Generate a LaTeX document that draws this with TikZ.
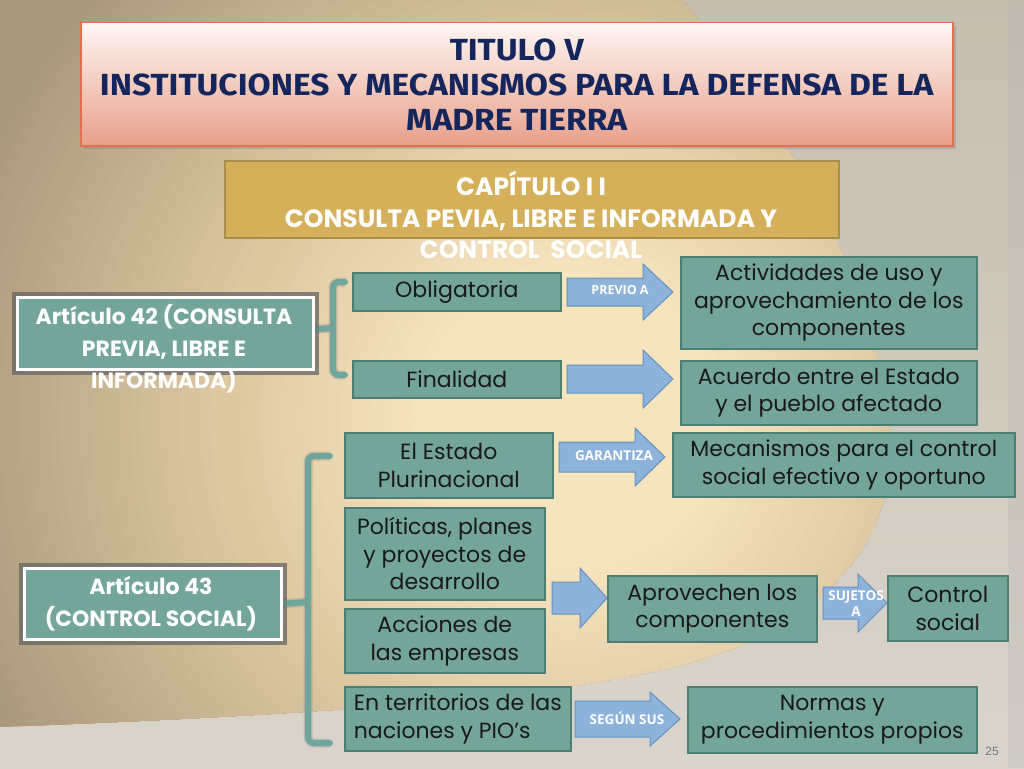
\documentclass[tikz,border=0pt]{standalone}
\usepackage{fontspec}
\setmainfont{Poppins}
\newfontfamily\titlefont{Fira Sans}[FakeStretch=1.1]
\newfontfamily\headfont{Poppins}
\newfontfamily\lblfont{Open Sans}
\newfontfamily\pgnfont{Liberation Sans}
\usetikzlibrary{shadows,calc}
\definecolor{teal1}{HTML}{73A59B}
\definecolor{tealb}{HTML}{4E7D72}
\definecolor{navy}{HTML}{15265C}
\definecolor{gold}{HTML}{D5B05B}
\definecolor{goldb}{HTML}{A88F49}
\definecolor{ablue}{HTML}{8DB3DA}
\definecolor{abord}{HTML}{6590C0}
\definecolor{brc}{HTML}{6FA69C}
\definecolor{bgt}{HTML}{C6BDAF}
\definecolor{bgb}{HTML}{DAD5CC}
\definecolor{cream}{HTML}{F6E4BE}
\definecolor{midtan}{HTML}{DDC8A2}
\definecolor{darktan}{HTML}{AA9A7C}
\definecolor{ttop}{HTML}{FEF6F4}
\definecolor{tbot}{HTML}{E8A08A}
\definecolor{tbord}{HTML}{E0704F}
\newcommand\barrow[6]{%
  \filldraw[arrsty] (#1,#4-#5) -- (#2,#4-#5) -- (#2,#4-#6) -- (#3,#4) -- (#2,#4+#6) -- (#2,#4+#5) -- (#1,#4+#5) -- cycle;}
\tikzset{
  tbox/.style={draw=tealb, line width=1.6pt, fill=teal1, inner sep=2pt, align=center,
    font=\fontsize{22}{27.5}\selectfont, text=black!90, anchor=north west},
  abox/.style={draw=white, line width=2.5pt, fill=teal1, anchor=north west,
    preaction={draw=black!60, line width=11pt, opacity=.5}},
  headtxt/.style={font=\headfont\bfseries\fontsize{22}{32}\selectfont, text=white, align=center},
  arrsty/.style={fill=ablue, draw=abord, line width=1pt, line join=miter},
  albl/.style={font=\lblfont\bfseries\fontsize{13.5}{16}\selectfont, text=white, align=center, inner sep=0pt},
  brace/.style={draw=brc, line width=6pt, line cap=round, rounded corners=6pt,
    preaction={draw=black!50, line width=9pt, opacity=.3}},
}
\begin{document}
\begin{tikzpicture}[x=1pt,y=-1pt]
\useasboundingbox (0,0) rectangle (1024,768);
% background
\shade[top color=bgt, bottom color=bgb] (0,0) rectangle (1024,768);
\fill[black!30, opacity=.25] (1008,0) rectangle (1024,768);
\begin{scope}
\clip (0,0) -- (683,0) .. controls (780,120) and (880,280) .. (890,440) .. controls (895,560) and (800,630) .. (700,660) .. controls (560,700) and (300,715) .. (0,727) -- cycle;
\fill[darktan] (0,0) rectangle (1024,768);
\foreach \r in {640,630,...,350} {\pgfmathtruncatemacro\p{(\r-350)/2.9}\fill[darktan!\p!midtan] (570,420) circle (\r);}
\foreach \r in {340,330,...,150} {\pgfmathtruncatemacro\p{(\r-150)/1.9}\fill[midtan!\p!cream] (570,420) circle (\r);}
\end{scope}
% title
\node[anchor=north west, minimum width=872pt, minimum height=123pt, top color=ttop, bottom color=tbot,
  draw=tbord, line width=1.5pt, drop shadow={shadow xshift=3pt, shadow yshift=-3pt, opacity=.35},
  align=center, text=navy, font=\titlefont\bfseries\fontsize{30.5}{35}\selectfont] (tit) at (80,22)
  {TITULO V\\INSTITUCIONES Y MECANISMOS PARA LA DEFENSA DE LA\\MADRE TIERRA};
% chapter
\node[anchor=north west, minimum width=614pt, minimum height=77pt, fill=gold, draw=goldb, line width=2pt] (cap) at (224,160) {};
\node[headtxt, font=\headfont\bfseries\fontsize{25}{31.5}\selectfont] (captxt) at (531,215) {CAPÍTULO I I\\CONSULTA PEVIA, LIBRE E INFORMADA Y\\CONTROL\ \ SOCIAL};
% braces
\draw[brace] (345,282) -- (333,282) -- (333,375) -- (345,375);
\draw[brace] (330,456) -- (308,456) -- (308,743) -- (330,743);
% article boxes
\node[abox, minimum width=296pt, minimum height=72pt] (a42) at (16,296) {};
\node[abox, minimum width=257pt, minimum height=71pt] (a43) at (23,567) {};
\draw[brace] (a42.east) ++(0,-4) -- (333,328);
\draw[brace] (a43.east) -- (308,602);
\node[abox, minimum width=296pt, minimum height=72pt] at (16,296) {};
\node[abox, minimum width=257pt, minimum height=71pt] at (23,567) {};
\node[headtxt] (a42t) at (164,349) {Artículo 42 (CONSULTA\\PREVIA, LIBRE E\\INFORMADA)};
\node[headtxt] (a43t) at (151,604) {Artículo 43\\(CONTROL SOCIAL)};
% teal boxes
\node[tbox, minimum width=208pt, minimum height=38pt] (obl) at (352,272) {Obligatoria};
\node[tbox, minimum width=208pt, minimum height=37pt] (fin) at (352,360) {Finalidad};
\node[tbox, minimum width=296pt, minimum height=92pt] (act) at (680,256) {Actividades de uso y\\aprovechamiento de los\\componentes};
\node[tbox, minimum width=296pt, minimum height=64pt] (acu) at (680,360) {Acuerdo entre el Estado\\y el pueblo afectado};
\node[tbox, minimum width=208pt, minimum height=65pt] (est) at (344,432) {El Estado\\Plurinacional};
\node[tbox, minimum width=342pt, minimum height=64pt] (mec) at (672,432) {Mecanismos para el control\\social efectivo y oportuno};
\node[tbox, minimum width=200pt, minimum height=92pt] (pol) at (344,507) {Políticas, planes\\y proyectos de\\desarrollo};
\node[tbox, minimum width=200pt, minimum height=64pt] (acc) at (344,608) {Acciones de\\las empresas};
\node[tbox, minimum width=209pt, minimum height=66pt] (apr) at (607,575) {Aprovechen los\\componentes};
\node[tbox, minimum width=120pt, minimum height=65pt] (con) at (887,575) {Control\\social};
\node[tbox, minimum width=226pt, minimum height=64pt, align=left] (ter) at (344,686) {En territorios de las\\naciones y PIO’s};
\node[tbox, minimum width=289pt, minimum height=66pt] (nor) at (687,686) {Normas y\\procedimientos propios};
% block arrows
\barrow{567}{643}{673}{292}{14}{28}
\barrow{567}{643}{673}{379}{14}{29}
\barrow{559}{635}{665}{457}{15}{29}
\barrow{552}{580}{607}{598}{16}{30}
\barrow{823}{858}{887}{603}{16}{29}
\barrow{575}{650}{680}{719}{18}{27}
\node[albl, font=\lblfont\bfseries\fontsize{12.5}{16}\selectfont] (l1) at (620,290) {PREVIO A};
\node[albl] (l2) at (614,456) {GARANTIZA};
\node[albl] (l3) at (856,604) {SUJETOS\\A};
\node[albl] (l4) at (627,718) {SEGÚN SUS};
% page number
\node[font=\pgnfont\fontsize{12}{12}\selectfont, text=black!55] (pg) at (992,751) {25};
\end{tikzpicture}
\end{document}
